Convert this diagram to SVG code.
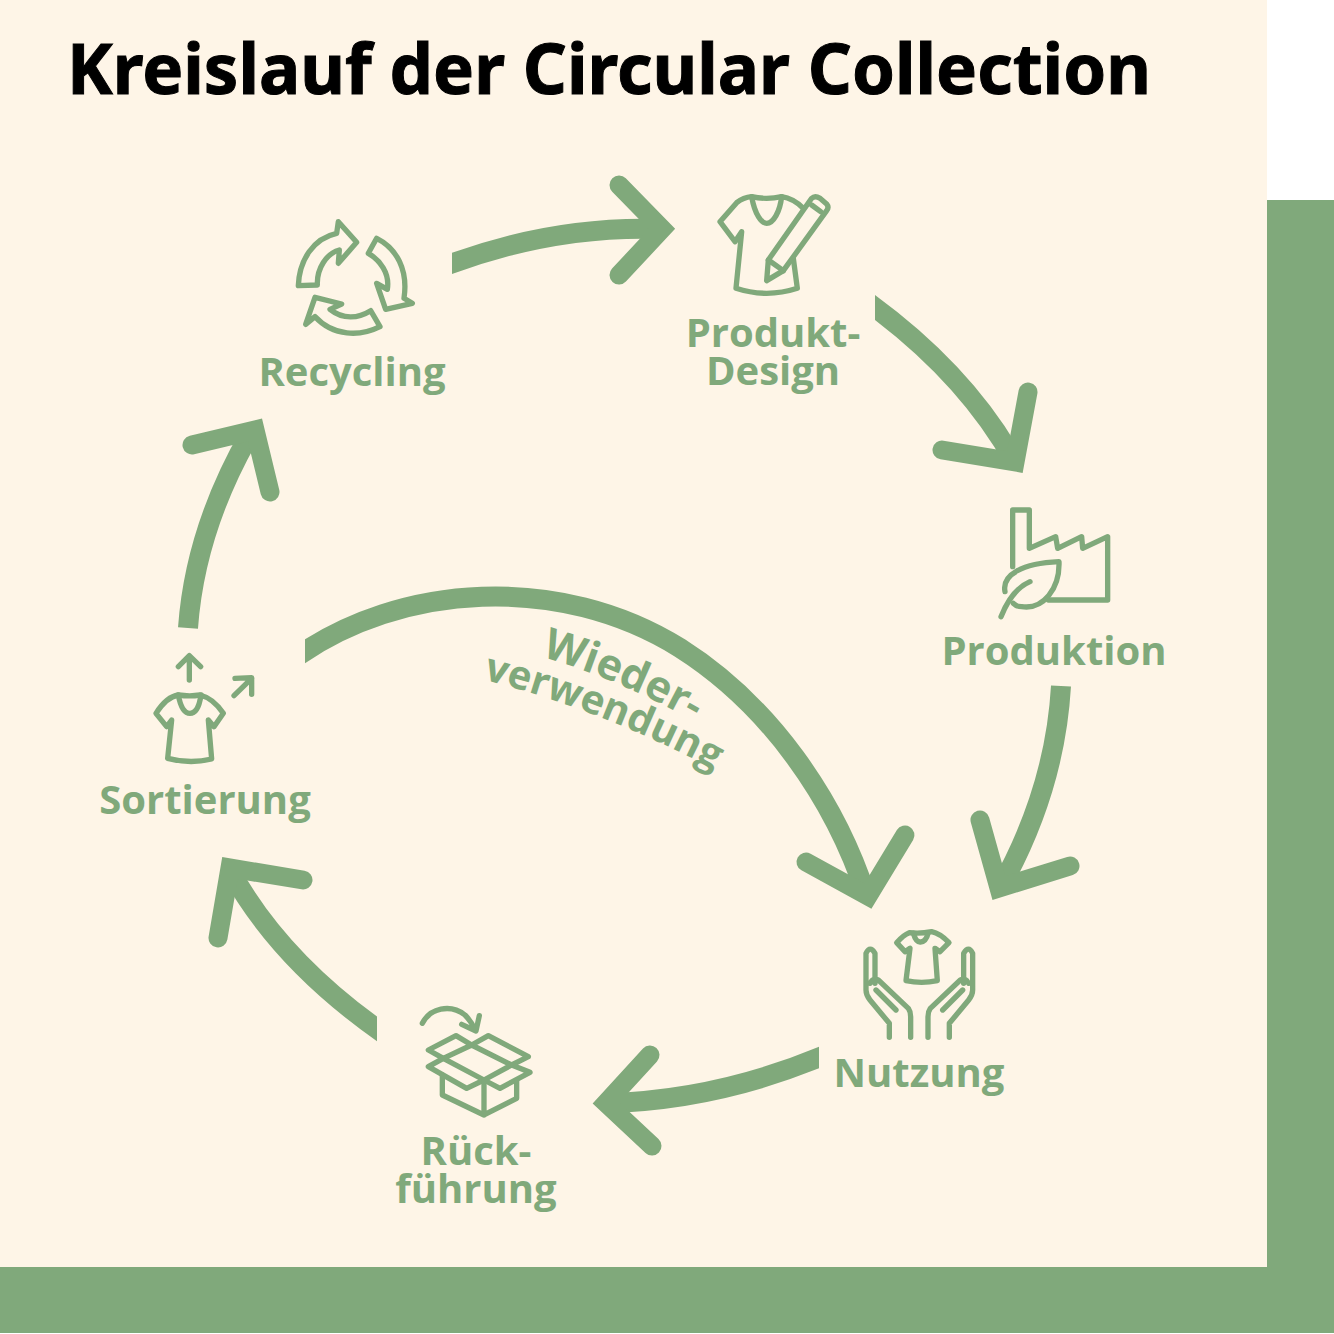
<svg xmlns="http://www.w3.org/2000/svg" width="1334" height="1334" viewBox="0 0 1334 1334">
<style>
.l{font-family:"Open Sans","Noto Sans",sans-serif;font-weight:700;font-size:40px;fill:#80A97B;text-anchor:middle}
.i{fill:none;stroke:#80A97B;stroke-width:16;stroke-linejoin:round;stroke-linecap:round}
.a{fill:none;stroke:#80A97B;stroke-width:20}
.h{fill:none;stroke:#80A97B;stroke-width:19;stroke-linecap:round;stroke-linejoin:miter}
</style>
<defs>
<path id="w1" d="M532 654Q617 677 702 726"/>
<path id="w2" d="M477 678Q600 708 720 773"/>
<clipPath id="cr1"><rect x="452" y="150" width="300" height="200"/></clipPath>
<clipPath id="cr2"><rect x="875" y="250" width="300" height="300"/></clipPath>
<clipPath id="cr4"><rect x="500" y="1000" width="319" height="200"/></clipPath>
<clipPath id="cr5"><rect x="180" y="800" width="197" height="300"/></clipPath>
<clipPath id="cr7"><rect x="305" y="540" width="700" height="400"/></clipPath>
</defs>
<rect width="1334" height="1334" fill="#fff"/>
<rect width="1267" height="1267" fill="#FEF5E7"/>
<rect x="1267" y="200" width="67" height="1133" fill="#80A97B"/>
<rect y="1267" width="1334" height="66" fill="#80A97B"/>
<text x="67" y="94" font-family="Noto Sans,Open Sans,sans-serif" font-weight="700" font-size="70" fill="#000" stroke="#000" stroke-width="1" textLength="1084" lengthAdjust="spacingAndGlyphs">Kreislauf der Circular Collection</text>
<g id="connectors">
<path class="a" clip-path="url(#cr1)" d="M440 268Q550 225 662 229"/><path class="h" d="M619 185 L662 229 L619 275"/>
<path class="a" clip-path="url(#cr2)" d="M865 300Q965 372 1015 462"/><path class="h" d="M1028 392 L1015 462 L942 450"/>
<path class="a" d="M1061 686Q1055 790 1000 888"/><path class="h" d="M980 820 L999 888 L1070 866"/>
<path class="a" clip-path="url(#cr4)" d="M830 1053Q720 1100 608 1103"/><path class="h" d="M650 1055 L606 1103 L652 1146"/>
<path class="a" clip-path="url(#cr5)" d="M387 1036Q280 962 230 870"/><path class="h" d="M218 938 L230 868 L303 880"/>
<path class="a" d="M188 628Q195 530 250 434"/><path class="h" d="M192 445 L255 430 L270 492"/>
<path class="a" clip-path="url(#cr7)" d="M295 658C400 583 560 573 680 648C770 705 835 800 866 895"/><path class="h" d="M806 862 L868 896 L905 835"/>
</g>
<g id="reuse"><text class="l" style="font-size:43px"><textPath href="#w1" startOffset="50%">Wieder-</textPath></text><text class="l"><textPath href="#w2" startOffset="50%">verwendung</textPath></text></g>
<g id="recycling">
<g class="i" transform="translate(280 170) scale(.3333)">
<path d="M55 347C58 270 100 205 170 190L175 155L230 217L175 280L178 240C140 250 110 295 112 345Z"/>
<path d="M290 205C350 235 385 300 372 385L397 400L317 418L290 340L322 358C330 310 300 270 265 250Z"/>
<path d="M300 470C240 500 160 500 105 440L77 463L105 382L185 402L150 418C190 450 235 445 272 422Z"/>
</g>
<text class="l" x="352" y="386">Recycling</text></g>
<g id="design">
<g class="i" transform="translate(700 180) scale(.3333)">
<path d="M280 235L292 325Q200 355 108 325L125 155L105 185L60 125L110 68Q130 52 155 50Q200 60 245 50Q280 55 310 85"/>
<path d="M155 50C165 105 185 130 200 130C220 130 240 95 245 50"/>
<path d="M205 240L335 55Q345 45 360 55L380 72Q388 82 380 92L250 272L200 302Z"/>
<path d="M205 240L250 272M335 75L362 95"/>
</g>
<text class="l" x="773" y="347">Produkt-</text><text class="l" x="773" y="385">Design</text></g>
<g id="produktion">
<g class="i" transform="translate(985 495) scale(.3333)">
<path d="M83 215L83 45L133 45L133 160L212 125L218 160L290 125L293 160L368 125L368 315L190 315"/>
<path d="M60 290C50 240 110 205 222 200C225 280 175 345 110 335Q95 335 85 325"/>
<path d="M48 365C70 310 100 275 135 260"/>
</g>
<text class="l" x="1054" y="665">Produktion</text></g>
<g id="nutzung">
<g class="i" transform="translate(850 920) scale(.3333)">
<path d="M178 38Q160 45 140 68L165 95L180 85L168 182Q215 192 262 182L255 85L270 95L297 68Q270 40 245 35Q210 42 178 38Z"/>
<path d="M190 40Q198 68 212 66Q228 66 235 38"/>
<path d="M118 352L118 310L60 240Q48 225 48 210L48 100Q60 75 75 100L75 190M60 190Q70 170 85 180L175 265Q182 275 182 290L182 352M78 210L138 270"/>
<path d="M298 352L298 310L356 240Q368 225 368 210L368 100Q356 75 341 100L341 190M356 190Q346 170 331 180L241 265Q234 275 234 290L234 352M338 210L278 270"/>
</g>
<text class="l" x="919" y="1087">Nutzung</text></g>
<g id="rueckfuehrung">
<g class="i" transform="translate(410 995) scale(.3333)">
<path d="M37 85C60 40 120 25 165 60Q185 80 195 105M155 88L198 108L208 62"/>
<path d="M185 150L138 122L55 165L100 190M185 150L235 122L355 185L305 210M185 150L305 210L222 255L100 190Z"/>
<path d="M100 190L55 215L170 280L222 255L270 280L360 232L305 210"/>
<path d="M97 240L97 300L222 360L320 310L320 258M222 255L222 360"/>
</g>
<text class="l" x="476" y="1165">Rück-</text><text class="l" x="476" y="1203">führung</text></g>
<g id="sortierung">
<g class="i" transform="translate(140 645) scale(.3333)">
<path d="M148 105L148 35M115 65L148 32L182 65M282 152L335 100M285 100L335 98L335 148"/>
<path d="M115 150Q80 155 48 205L80 245L95 225L83 340Q150 358 215 342L205 225L222 245L250 205Q220 160 180 150Q150 155 115 150Z"/>
<path d="M115 150Q125 205 150 205Q175 205 183 150"/>
</g>
<text class="l" x="205" y="814">Sortierung</text></g>
</svg>
